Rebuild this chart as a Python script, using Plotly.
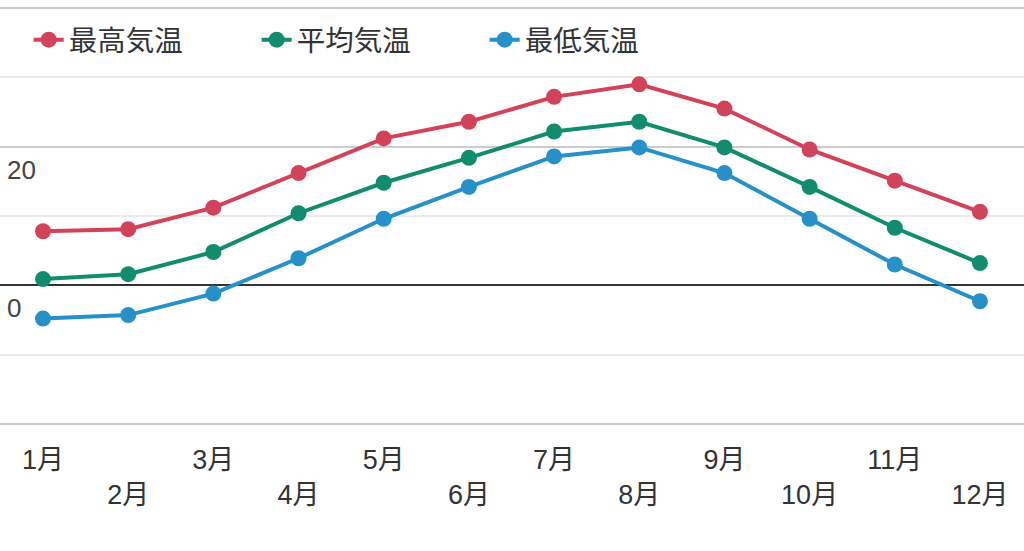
import plotly.graph_objects as go

months = ["1月", "2月", "3月", "4月", "5月", "6月", "7月", "8月", "9月", "10月", "11月", "12月"]
# stagger even-month labels onto a second row
month_ticks = [m if i % 2 == 0 else "<br>" + m for i, m in enumerate(months)]

temp_max = [7.8, 8.1, 11.2, 16.2, 21.2, 23.6, 27.2, 29.0, 25.5, 19.6, 15.1, 10.6]
temp_avg = [0.9, 1.6, 4.8, 10.4, 14.8, 18.4, 22.2, 23.6, 19.9, 14.2, 8.3, 3.2]
temp_min = [-4.8, -4.3, -1.2, 3.9, 9.6, 14.2, 18.6, 19.9, 16.2, 9.6, 3.0, -2.3]

y_ticks = [-20, 0, 20, 40]
y_tick_labels = ["", "0", "20", ""]

series = [
    ("最高気温", temp_max, "#d2435a"),
    ("平均気温", temp_avg, "#128c6e"),
    ("最低気温", temp_min, "#2690c8"),
]

FONT = "Liberation Sans, Noto Sans CJK JP, sans-serif"

fig = go.Figure()
for name, vals, color in series:
    fig.add_trace(go.Scatter(
        x=list(range(len(months))),
        y=vals,
        name=name,
        mode="lines+markers",
        line=dict(color=color, width=4),
        marker=dict(color=color, size=16),
    ))

fig.update_layout(
    width=1024,
    height=551,
    margin=dict(l=0, r=0, t=4, b=123),
    plot_bgcolor="white",
    paper_bgcolor="white",
    font=dict(family=FONT, color="#333333"),
    legend=dict(
        orientation="h",
        x=0.028, xanchor="left",
        y=0.975, yanchor="top",
        font=dict(size=28.5, color="#333333"),
        entrywidth=183, entrywidthmode="pixels",
        bgcolor="rgba(0,0,0,0)",
    ),
    xaxis=dict(
        range=[-0.505, 11.517],
        tickvals=list(range(len(months))),
        ticktext=month_ticks,
        showgrid=False,
        zeroline=False,
        showline=False,
        ticks="",
        ticklabelstandoff=13,
        tickfont=dict(size=27, color="#333333"),
    ),
    yaxis=dict(
        range=[-20.6, 40.6],
        tickvals=y_ticks,
        ticktext=y_tick_labels,
        showgrid=True,
        gridcolor="#cccccc",
        gridwidth=2,
        minor=dict(dtick=10, showgrid=True, gridcolor="#ebebeb", gridwidth=2),
        zeroline=True,
        zerolinecolor="#333333",
        zerolinewidth=2,
        ticks="",
        ticklabelposition="inside",
        ticklabelstandoff=4,
        ticklabelshift=23,
        tickfont=dict(size=26, color="#444444"),
    ),
)

fig.write_html(
    "out.html",
    config={"displayModeBar": False},
    post_script="document.body.style.margin='0';",
)
